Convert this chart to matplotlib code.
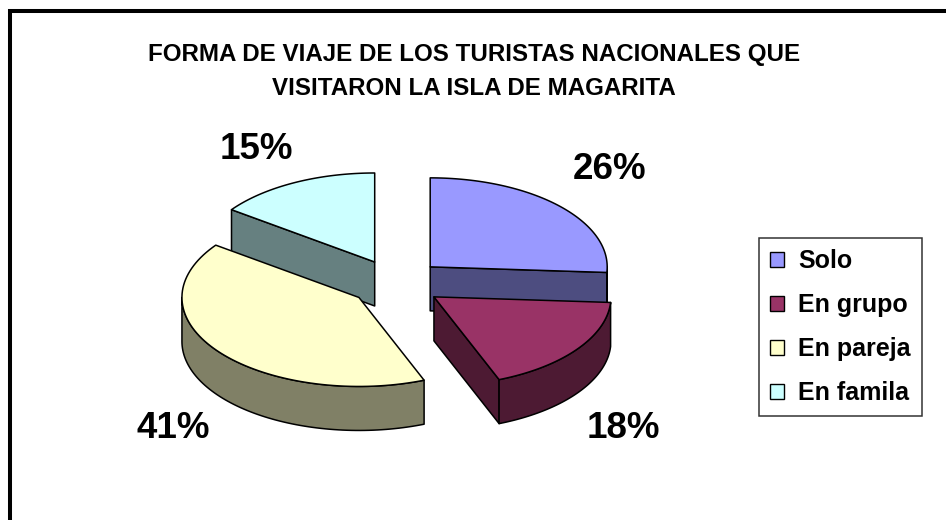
import numpy as np
import matplotlib.pyplot as plt
from matplotlib.patches import Polygon, Patch

# ---- data ----
categories = ["Solo", "En grupo", "En pareja", "En famila"]
shares = [26, 18, 41, 15]
pct_labels = ["26%", "18%", "41%", "15%"]
title_lines = ["FORMA DE VIAJE DE LOS TURISTAS NACIONALES QUE",
               "VISITARON LA ISLA DE MAGARITA"]

top_colors = ["#9999FF", "#993366", "#FFFFCC", "#CCFFFF"]
side_colors = ["#4D4D80", "#4D1A33", "#808066", "#668080"]

plt.rcParams['font.family'] = ['Liberation Sans', 'DejaVu Sans']

W, H = 946, 520
fig = plt.figure(figsize=(W / 100, H / 100), dpi=100)
ax = fig.add_axes([0, 0, 1, 1])
ax.set_xlim(0, W)
ax.set_ylim(H, 0)
ax.axis('off')

# outer chart border (only top and left visible)
ax.plot([10, 10, W + 10], [H + 10, 10.5, 10.5], color='black', lw=2.9,
        solid_joinstyle='miter', solid_capstyle='butt', clip_on=False)

# title
ax.text(474, 61, title_lines[0], ha='center', va='baseline',
        fontsize=17.4, fontweight='bold')
ax.text(474, 95, title_lines[1], ha='center', va='baseline',
        fontsize=17.4, fontweight='bold')

# ---- 3D pie geometry ----
cx0, cy0 = 396, 283
rx, ry, depth = 177, 89, 44
explode = 0.265
edge_lw = 1.1

def arc(cx, cy, t1, t2, dz=0, n=80):
    th = np.radians(np.linspace(t1, t2, n))
    return np.column_stack([cx + rx * np.cos(th), cy - ry * np.sin(th) + dz])

total = float(sum(shares))
slices = []
a = 90.0
for i, s in enumerate(shares):
    span = 360.0 * s / total
    a1, a2 = a, a - span
    a = a2
    mid = np.radians((a1 + a2) / 2)
    cx = cx0 + explode * rx * np.cos(mid)
    cy = cy0 - explode * ry * np.sin(mid)
    slices.append(dict(i=i, a1=a1, a2=a2, mid=mid, cx=cx, cy=cy))

order = sorted(slices, key=lambda d: -np.sin(d['mid']))

for d in order:
    i, a1, a2, cx, cy = d['i'], d['a1'], d['a2'], d['cx'], d['cy']
    side = side_colors[i]
    # radial faces
    for ang, nrm in ((a1, a1 + 90), (a2, a2 - 90)):
        if np.sin(np.radians(nrm)) < -1e-6:
            p = arc(cx, cy, ang, ang, n=1)[0]
            quad = [(cx, cy), tuple(p), (p[0], p[1] + depth), (cx, cy + depth)]
            ax.add_patch(Polygon(quad, closed=True, fc=side, ec='black',
                                 lw=edge_lw, joinstyle='round'))
    # outer wall (front half of the ellipse)
    for k in range(-2, 3):
        lo = max(a2, -180 + 360 * k)
        hi = min(a1, 0 + 360 * k)
        if hi - lo > 1e-6:
            top = arc(cx, cy, lo, hi)
            bot = arc(cx, cy, hi, lo, dz=depth)
            ax.add_patch(Polygon(np.vstack([top, bot]), closed=True, fc=side,
                                 ec='black', lw=edge_lw, joinstyle='round'))
    # top face
    pts = np.vstack([[cx, cy], arc(cx, cy, a1, a2)])
    ax.add_patch(Polygon(pts, closed=True, fc=top_colors[i], ec='black',
                         lw=edge_lw, joinstyle='round'))

# percentage labels
label_pos = [(610, 179), (623, 438), (173, 438), (256, 159)]
for lab, (x, y) in zip(pct_labels, label_pos):
    ax.text(x, y, lab, ha='center', va='baseline', fontsize=26.5,
            fontweight='bold')

# legend
handles = [Patch(facecolor=c, edgecolor='black', lw=1.0) for c in top_colors]
leg = ax.legend(handles, categories, loc='upper left',
                bbox_to_anchor=(759 / W, 1 - 238 / H), borderaxespad=0,
                frameon=True, fancybox=False,
                prop={'weight': 'bold', 'size': 18},
                handlelength=0.56, handleheight=0.56, handletextpad=0.56,
                labelspacing=0.8, borderpad=0.45)
leg.get_frame().set_edgecolor('black')
leg.get_frame().set_linewidth(1.1)
leg.get_frame().set_facecolor('white')

fig.savefig('out.png', dpi=100, facecolor='white')
